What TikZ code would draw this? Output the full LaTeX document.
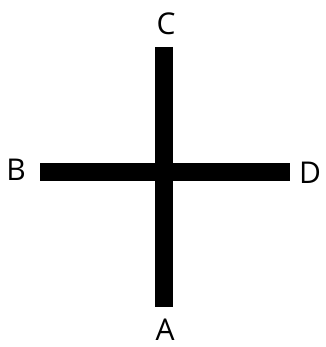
\documentclass[tikz,border=0pt]{standalone}
\usepackage{fontspec}
\setmainfont{Open Sans}
\begin{document}
\begin{tikzpicture}[x=1pt,y=1pt,
  bar/.style={line width=18pt,line cap=butt,draw=black},
  lbl/.style={inner sep=0pt,font=\fontsize{30}{32}\selectfont}]
\useasboundingbox (0,0) rectangle (325,347);
\coordinate (vt) at (163.5,300);
\coordinate (vb) at (163.5,40);
\coordinate (hl) at (40,175);
\coordinate (hr) at (290,175);
\draw[bar] (vt) -- (vb);
\draw[bar] (hl) -- (hr);
\node[lbl] (C) at (166,323.5) {C};
\node[lbl] (B) at (16,177) {B};
\node[lbl] (D) at (310,174.5) {D};
\node[lbl] (A) at (165,17) {A};
\end{tikzpicture}
\end{document}
